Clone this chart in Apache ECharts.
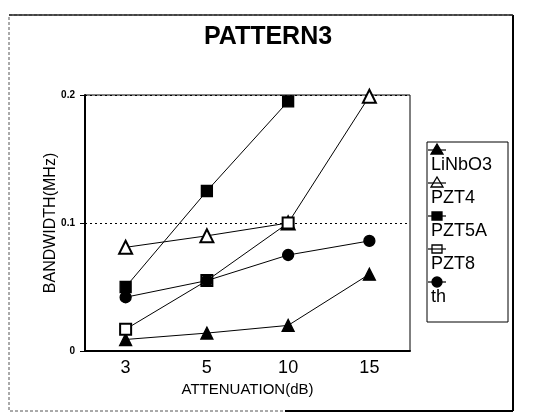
<!DOCTYPE html>
<html>
<head>
<meta charset="utf-8">
<script src="https://cdn.jsdelivr.net/npm/echarts@6/dist/echarts.min.js"></script>
<style>
html,body{margin:0;padding:0;background:#fff;}
#chart{width:536px;height:417px;}
</style>
</head>
<body>
<div id="chart"></div>
<script>
var categories = ['3', '5', '10', '15'];
var seriesNames = ['LiNbO3', 'PZT4', 'PZT5A', 'PZT8', 'th'];
var LiNbO3 = [0.009, 0.014, 0.02, 0.06];
var PZT4 = [0.081, 0.09, 0.1, 0.199];
var PZT5A = [0.05, 0.125, 0.195, null];
var PZT8 = [0.017, 0.055, 0.1, null];
var th = [0.042, 0.055, 0.075, 0.086];
var yTicks = [0, 0.1, 0.2];

var seriesData = [LiNbO3, PZT4, PZT5A, PZT8, th];
var symbols = ['triangle', 'emptyTriangle', 'rect', 'emptyRect', 'circle'];
var symbolSizes = [12, 13, 11, 11, 11];

var chart = echarts.init(document.getElementById('chart'), null, {renderer: 'canvas'});

var series = seriesNames.map(function (n, i) {
  return {
    name: n,
    type: 'line',
    data: seriesData[i],
    symbol: symbols[i],
    symbolSize: symbolSizes[i],
    showAllSymbol: true,
    connectNulls: false,
    lineStyle: {color: '#000', width: 1},
    itemStyle: {color: '#000', borderColor: '#000', borderWidth: 1.3},
    z: 3
  };
});

// legend drawn as graphic (symbol above label)
var legendX = 437, legendTop = 150, step = 33;
var legendGraphics = [];
legendGraphics.push({type: 'rect', shape: {x: 427, y: 142, width: 81, height: 180},
  style: {fill: '#fff', stroke: '#000', lineWidth: 1}, z: 10});
seriesNames.forEach(function (n, i) {
  var cy = legendTop + step * i;
  var s = symbols[i];
  var empty = s.indexOf('empty') === 0;
  var st = {fill: empty ? '#fff' : '#000', stroke: '#000', lineWidth: 1.3};
  if (s.indexOf('riangle') > 0) {
    legendGraphics.push({type: 'polygon', shape: {points: [[legendX - 6, cy + 4], [legendX + 6, cy + 4], [legendX, cy - 6]]}, style: st, z: 12});
  } else if (s.indexOf('ect') > 0) {
    legendGraphics.push({type: 'rect', shape: {x: legendX - 5, y: cy - 4, width: 10, height: 8}, style: st, z: 12});
  } else {
    legendGraphics.push({type: 'circle', shape: {cx: legendX, cy: cy, r: 5}, style: st, z: 12});
  }
  legendGraphics.push({type: 'line', shape: {x1: legendX - 9, y1: cy, x2: legendX + 9, y2: cy},
    style: {stroke: '#000', lineWidth: 1.2}, z: 13});
  legendGraphics.push({type: 'text', left: 431, top: cy + 6,
    style: {text: n, fill: '#000', font: '18px "Liberation Sans", Arial, sans-serif'}, z: 12});
});

var frame = [
  {type: 'rect', shape: {x: 9, y: 15, width: 504, height: 396},
    style: {fill: null, stroke: '#555', lineWidth: 1, lineDash: [3, 2]}, z: 0},
  {type: 'line', shape: {x1: 513, y1: 15, x2: 513, y2: 411}, style: {stroke: '#000', lineWidth: 2}, z: 1},
  {type: 'line', shape: {x1: 285, y1: 411, x2: 513, y2: 411}, style: {stroke: '#000', lineWidth: 2}, z: 1},
  {type: 'line', shape: {x1: 9, y1: 15, x2: 513, y2: 15}, style: {stroke: '#222', lineWidth: 1.5}, z: 1}
];

chart.setOption({
  animation: false,
  backgroundColor: '#fff',
  title: {
    text: 'PATTERN3',
    left: 'center',
    top: 20,
    textStyle: {fontFamily: '"Liberation Sans", Arial, sans-serif', fontSize: 25, fontWeight: 'bold', color: '#000'}
  },
  grid: {left: 85, right: 126, top: 95, bottom: 66, show: true, borderColor: '#000', borderWidth: 1, backgroundColor: 'transparent'},
  xAxis: {
    type: 'category',
    data: categories,
    boundaryGap: true,
    name: 'ATTENUATION(dB)',
    nameLocation: 'middle',
    nameGap: 28,
    nameTextStyle: {fontFamily: '"Liberation Sans", Arial, sans-serif', fontSize: 15, color: '#000'},
    axisLine: {lineStyle: {color: '#000', width: 2}},
    axisTick: {alignWithLabel: true, length: 5, inside: false, lineStyle: {color: '#000', width: 1}},
    axisLabel: {fontFamily: '"Liberation Sans", Arial, sans-serif', fontSize: 18, color: '#000', margin: 8},
    splitLine: {show: false}
  },
  yAxis: {
    type: 'value',
    min: 0,
    max: 0.2,
    interval: 0.1,
    name: 'BANDWIDTH(MHz)',
    nameLocation: 'middle',
    nameGap: 26,
    nameMoveOverlap: false,
    nameTextStyle: {fontFamily: '"Liberation Sans", Arial, sans-serif', fontSize: 16, color: '#000'},
    axisLine: {show: true, lineStyle: {color: '#000', width: 2}},
    axisTick: {show: true, length: 5, lineStyle: {color: '#000'}},
    axisLabel: {fontFamily: '"Liberation Sans", Arial, sans-serif', fontSize: 10, fontWeight: 'bold', color: '#000', margin: 10,
      formatter: function (v) { return yTicks.indexOf(v) >= 0 ? String(v) : ''; }},
    splitLine: {show: true, lineStyle: {color: '#000', type: [2, 3], width: 1}}
  },
  graphic: frame.concat(legendGraphics),
  series: series
});
</script>
</body>
</html>
